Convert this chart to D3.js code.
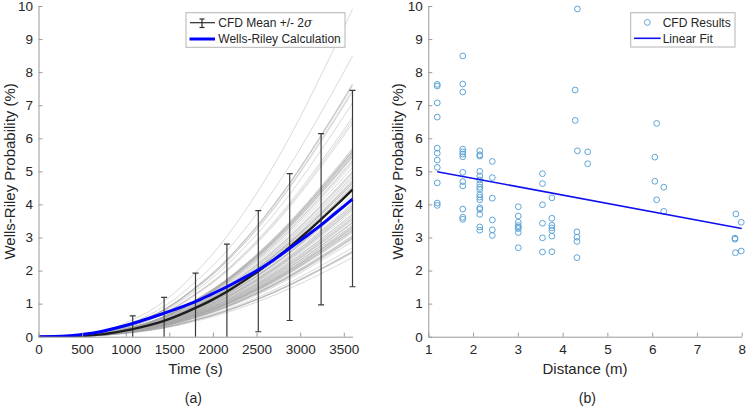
<!DOCTYPE html>
<html><head><meta charset="utf-8">
<script src="https://cdn.jsdelivr.net/npm/d3@7"></script>
<style>body{margin:0;background:#fff}svg{display:block}text{font-family:Arial,"Liberation Sans",sans-serif;fill:#262626}</style>
</head><body><svg id="c" width="749" height="409"></svg>
<script>
// ---- data (panel a) ----
const timeSteps = [0,180,360,540,720,900,1080,1260,1440,1620,1800,1980,2160,2340,2520,2700,2880,3060,3240,3420,3600];
const meanCFD   = [0,0,0.005,0.03,0.07,0.14,0.23,0.34,0.48,0.66,0.87,1.10,1.36,1.66,1.98,2.33,2.71,3.12,3.55,3.99,4.45];
const wellsRiley= [0,0.005,0.03,0.08,0.16,0.27,0.40,0.55,0.71,0.88,1.06,1.28,1.51,1.76,2.02,2.33,2.67,3.02,3.38,3.77,4.16];
const grayShape = [0,0,0.001,0.007,0.016,0.031,0.052,0.076,0.108,0.148,0.196,0.247,0.306,0.373,0.445,0.524,0.609,0.701,0.798,0.897,1];
const errTimes  = [1080,1440,1800,2160,2520,2880,3240,3600];
const errMean   = [0.23,0.48,0.87,1.36,1.98,2.71,3.55,4.48];
const errTwoSigma = [0.40,0.71,1.05,1.44,1.83,2.22,2.59,2.97];
const timeTicks = [0,500,1000,1500,2000,2500,3000,3500];
const probTicks = [0,1,2,3,4,5,6,7,8,9,10];
// ---- data (panel b) ----
const scatterDistance = [
 1.2,1.2,1.2,1.2,1.2,1.2,1.2,1.2,1.2,1.2,1.2,
 1.77,1.77,1.77,1.77,1.77,1.77,1.77,1.77,1.77,1.77,1.77,1.77,1.77,
 2.15,2.15,2.15,2.15,2.15,2.15,2.15,2.15,2.15,2.15,2.15,2.15,2.15,2.15,2.15,2.15,2.15,
 2.43,2.43,2.43,2.43,2.43,2.43,
 3.01,3.01,3.01,3.01,3.01,3.01,3.01,3.01,
 3.55,3.55,3.55,3.55,3.55,3.55,
 3.76,3.76,3.76,3.76,3.76,3.76,3.76,
 4.28,4.28,4.33,4.33,4.32,4.32,4.32,4.32,
 4.56,4.56,
 6.06,6.06,6.10,6.10,6.26,6.26,
 7.87,7.85,7.85,7.86,7.99,7.99];
const scatterProb = [
 7.63,7.58,7.07,6.64,5.70,5.55,5.34,5.12,4.65,4.04,3.97,
 8.49,7.64,7.40,5.67,5.59,5.52,5.44,4.97,4.69,4.56,3.86,3.61,3.55,
 5.62,5.50,5.46,5.00,4.86,4.74,4.62,4.52,4.45,4.30,4.22,4.14,3.90,3.85,3.70,3.32,3.22,
 5.30,4.81,4.19,3.53,3.23,3.06,
 3.93,3.65,3.46,3.36,3.31,3.27,3.15,2.69,
 4.93,4.63,3.99,3.43,2.99,2.56,
 4.20,3.58,3.37,3.29,3.21,3.04,2.57,
 7.46,6.54,9.91,5.62,3.17,3.01,2.88,2.39,
 5.59,5.23,
 5.43,4.70,6.45,4.14,4.52,3.79,
 3.71,2.98,2.95,2.54,3.46,2.59];
const fitDistance = [1.2, 8];
const fitProb = [4.99, 3.27];
const distTicks = [1,2,3,4,5,6,7,8];

const svg = d3.select("#c");
svg.append("rect").attr("width",749).attr("height",409).attr("fill","#fff");

const y = d3.scaleLinear().domain([0,10]).range([336.7,6]);
const xa = d3.scaleLinear().domain([0,3600]).range([38.5,352.5]);
const xb = d3.scaleLinear().domain([1,8]).range([428.3,741.7]);
const axisCol = "#9a9a9a";

function styleAxis(g){
  g.selectAll("path").attr("stroke",axisCol).attr("stroke-width",1);
  g.selectAll("line").attr("stroke",axisCol).attr("stroke-width",1);
  g.selectAll("text").attr("font-size","13.5px").attr("fill","#262626").style("font-family","Arial, 'Liberation Sans', sans-serif");
}
function axes(x, xt, x0){
  const gx = svg.append("g").attr("transform",`translate(0,${y(0)})`)
    .call(d3.axisBottom(x).tickValues(xt).tickFormat(d3.format("d")).tickSizeInner(-4).tickSizeOuter(0).tickPadding(8));
  styleAxis(gx);
  const gy = svg.append("g").attr("transform",`translate(${x0},0)`)
    .call(d3.axisLeft(y).tickValues(probTicks).tickFormat(d3.format("d")).tickSizeInner(-4).tickSizeOuter(0).tickPadding(5.5));
  styleAxis(gy);
}

// ---- Panel (a) ----
svg.append("clipPath").attr("id","clipA").append("rect")
  .attr("x",xa(0)).attr("y",y(10)).attr("width",xa(3600)-xa(0)+6).attr("height",y(0)-y(10));
const pa = svg.append("g").attr("clip-path","url(#clipA)");
const line = d3.line().x(d=>xa(d[0])).y(d=>y(d[1]));
scatterProb.forEach(end=>{
  pa.append("path").datum(timeSteps.map((t,i)=>[t,end*grayShape[i]]))
    .attr("d",line.curve(d3.curveMonotoneX)).attr("fill","none").attr("stroke","#a8a8a8").attr("stroke-opacity",0.55).attr("stroke-width",0.8);
});
// error bars
errTimes.forEach((t,i)=>{
  const lo = errMean[i]-errTwoSigma[i], hi = errMean[i]+errTwoSigma[i];
  const g = pa.append("g").attr("stroke","#3a3a3a").attr("stroke-width",1.2);
  g.append("line").attr("x1",xa(t)).attr("x2",xa(t)).attr("y1",y(lo)).attr("y2",y(hi));
  g.append("line").attr("x1",xa(t)-3).attr("x2",xa(t)+3).attr("y1",y(hi)).attr("y2",y(hi));
  g.append("line").attr("x1",xa(t)-3).attr("x2",xa(t)+3).attr("y1",y(lo)).attr("y2",y(lo));
});
pa.append("path").datum(timeSteps.map((t,i)=>[t,meanCFD[i]])).attr("d",line.curve(d3.curveMonotoneX))
  .attr("fill","none").attr("stroke","#1e1e1e").attr("stroke-width",2.4);
pa.append("path").datum(timeSteps.map((t,i)=>[t,wellsRiley[i]])).attr("d",line.curve(d3.curveMonotoneX))
  .attr("fill","none").attr("stroke","#0000ff").attr("stroke-width",3);
axes(xa, timeTicks, xa(0));

// legend a
const la = svg.append("g");
la.append("rect").attr("x",186).attr("y",12.7).attr("width",159).attr("height",34.6)
  .attr("fill","#fff").attr("stroke","#b4b4b4").attr("stroke-width",1);
la.append("line").attr("x1",190).attr("x2",215).attr("y1",22.7).attr("y2",22.7).attr("stroke","#2a2a2a").attr("stroke-width",1.2);
la.append("line").attr("x1",202).attr("x2",202).attr("y1",19).attr("y2",27.5).attr("stroke","#2a2a2a").attr("stroke-width",1.2);
la.append("line").attr("x1",199.5).attr("x2",204.5).attr("y1",19).attr("y2",19).attr("stroke","#2a2a2a").attr("stroke-width",1.2);
la.append("line").attr("x1",199.5).attr("x2",204.5).attr("y1",27.5).attr("y2",27.5).attr("stroke","#2a2a2a").attr("stroke-width",1.2);
const t1 = la.append("text").attr("x",218.3).attr("y",27).attr("font-size","12px");
t1.append("tspan").text("CFD Mean +/- 2");
t1.append("tspan").attr("font-style","italic").attr("font-family","'DejaVu Serif', 'Liberation Serif', serif").text("\u03C3");
la.append("line").attr("x1",189.5).attr("x2",215).attr("y1",39).attr("y2",39).attr("stroke","#0000ff").attr("stroke-width",3);
la.append("text").attr("x",218.3).attr("y",43.3).attr("font-size","12px").text("Wells-Riley Calculation");

// ---- Panel (b) ----
const pb = svg.append("g");
pb.selectAll("circle").data(scatterDistance.map((d,i)=>[d,scatterProb[i]])).join("circle")
  .attr("cx",d=>xb(d[0])).attr("cy",d=>y(d[1])).attr("r",2.9)
  .attr("fill","none").attr("stroke","#5ea5d6").attr("stroke-width",1);
pb.append("path").datum(fitDistance.map((d,i)=>[d,fitProb[i]]))
  .attr("d",d3.line().x(d=>xb(d[0])).y(d=>y(d[1])))
  .attr("fill","none").attr("stroke","#1010ee").attr("stroke-width",1.6);
axes(xb, distTicks, xb(1));

// legend b
const lb = svg.append("g");
lb.append("rect").attr("x",630.7).attr("y",12.7).attr("width",104.3).attr("height",34.3)
  .attr("fill","#fff").attr("stroke","#b4b4b4").attr("stroke-width",1);
lb.append("circle").attr("cx",647.3).attr("cy",22.4).attr("r",2.9).attr("fill","none").attr("stroke","#5ea5d6").attr("stroke-width",1);
lb.append("text").attr("x",662.7).attr("y",27).attr("font-size","12px").text("CFD Results");
lb.append("line").attr("x1",634).attr("x2",660.7).attr("y1",38.3).attr("y2",38.3).attr("stroke","#1010ee").attr("stroke-width",1.6);
lb.append("text").attr("x",662.7).attr("y",42.7).attr("font-size","12px").text("Linear Fit");

// axis titles
svg.append("text").attr("x",xa(1800)).attr("y",373.5).attr("text-anchor","middle").attr("font-size","15px").text("Time (s)");
svg.append("text").attr("x",xb(4.5)).attr("y",373.5).attr("text-anchor","middle").attr("font-size","15px").text("Distance (m)");
svg.append("text").attr("transform",`translate(15,${y(5)}) rotate(-90)`).attr("text-anchor","middle").attr("font-size","15px").text("Wells-Riley Probability (%)");
svg.append("text").attr("transform",`translate(403,${y(5)}) rotate(-90)`).attr("text-anchor","middle").attr("font-size","15px").text("Wells-Riley Probability (%)");
svg.append("text").attr("x",193.3).attr("y",403).attr("text-anchor","middle").attr("font-size","14px").text("(a)");
svg.append("text").attr("x",587.3).attr("y",403).attr("text-anchor","middle").attr("font-size","14px").text("(b)");
</script></body></html>
